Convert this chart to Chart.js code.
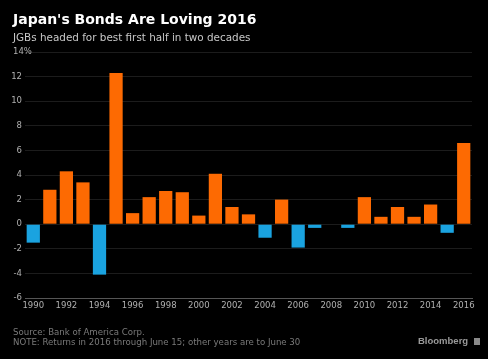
<!DOCTYPE html>
<html>
<head>
<meta charset="utf-8">
<script src="https://cdn.jsdelivr.net/npm/chart.js@4"></script>
<style>
  body { margin: 0; background: #000; width: 488px; height: 359px; overflow: hidden; font-family: "DejaVu Sans", sans-serif; }
  #wrap { position: relative; width: 488px; height: 359px; }
  canvas { position: absolute; left: 0; top: 0; }
  .txt { position: absolute; white-space: nowrap; }
  #title { left: 13px; top: 11px; font-size: 14px; font-weight: bold; color: #fff; }
  #sub { left: 13px; top: 31px; font-size: 10.4px; color: #c8c8c8; }
  #src { left: 13px; top: 327px; font-size: 8.6px; color: #7a7a7a; line-height: 10px; }
  #logo { left: 418px; top: 335px; font-family: "Liberation Sans", sans-serif; font-size: 9.5px; font-weight: bold; color: #9a9a9a; }
  #logo span { display: inline-block; width: 6px; height: 7px; background: #8a8a8a; margin-left: 6px; vertical-align: -1px; }
</style>
</head>
<body>
<div id="wrap">
  <canvas id="grafico" width="488" height="359"></canvas>
  <div class="txt" id="title">Japan's Bonds Are Loving 2016</div>
  <div class="txt" id="sub">JGBs headed for best first half in two decades</div>
  <div class="txt" id="src">Source: Bank of America Corp.<br>NOTE: Returns in 2016 through June 15; other years are to June 30</div>
  <div class="txt" id="logo">Bloomberg<span></span></div>
</div>
<script>
// Dados
const anos = ['1990', '1991', '1992', '1993', '1994', '1995', '1996', '1997', '1998', '1999',
  '2000', '2001', '2002', '2003', '2004', '2005', '2006', '2007', '2008', '2009',
  '2010', '2011', '2012', '2013', '2014', '2015', '2016'];
const retornos = [-1.5, 2.8, 4.3, 3.4, -4.1, 12.3, 0.9, 2.2, 2.7, 2.6,
  0.7, 4.1, 1.4, 0.8, -1.1, 2.0, -1.9, -0.3, 0, -0.3,
  2.2, 0.6, 1.4, 0.6, 1.6, -0.7, 6.6];
const yTicks = [-6, -4, -2, 0, 2, 4, 6, 8, 10, 12, 14];

const laranja = '#fd6a02';
const azul = '#1aa3e0';
const corTexto = '#b0b0b0';

// rótulo "14%" alinhado à esquerda, como no original
const rotuloTopo = {
  id: 'rotuloTopo',
  afterDraw(chart) {
    const y = chart.scales.y;
    const c = chart.ctx;
    c.save();
    c.font = '8.5px "DejaVu Sans"';
    c.fillStyle = corTexto;
    c.textAlign = 'left';
    c.textBaseline = 'middle';
    c.fillText(yTicks[yTicks.length - 1] + '%', 13, y.getPixelForValue(yTicks[yTicks.length - 1]));
    c.restore();
  }
};

const ctx = document.getElementById('grafico').getContext('2d');
new Chart(ctx, {
  type: 'bar',
  data: {
    labels: anos,
    datasets: [{
      data: retornos,
      backgroundColor: retornos.map(v => v < 0 ? azul : laranja),
      borderWidth: 0,
      categoryPercentage: 1,
      barPercentage: 0.8
    }]
  },
  options: {
    responsive: false,
    animation: false,
    layout: { padding: { left: 0, right: 16, top: 52, bottom: 38 } },
    plugins: { legend: { display: false }, tooltip: { enabled: false } },
    scales: {
      x: {
        grid: { display: false, drawTicks: false },
        border: { display: true, color: '#555', width: 1 },
        ticks: {
          autoSkip: false,
          maxRotation: 0,
          padding: 3,
          color: corTexto,
          font: { family: 'DejaVu Sans', size: 8.5 },
          callback: function (val, i) { return i % 2 === 0 ? anos[i] : ''; }
        },
        afterFit: function (s) { s.height = 23; }
      },
      y: {
        min: -6,
        max: 14,
        afterBuildTicks: function (s) { s.ticks = yTicks.map(v => ({ value: v })); },
        grid: { color: '#1c1c1c', drawTicks: false },
        border: { display: false },
        ticks: {
          padding: 3,
          color: corTexto,
          font: { family: 'DejaVu Sans', size: 8.5 },
          callback: function (v) { return v === 14 ? '' : v; }
        },
        afterFit: function (s) { s.width = 25; }
      }
    }
  },
  plugins: [rotuloTopo]
});
</script>
</body>
</html>
